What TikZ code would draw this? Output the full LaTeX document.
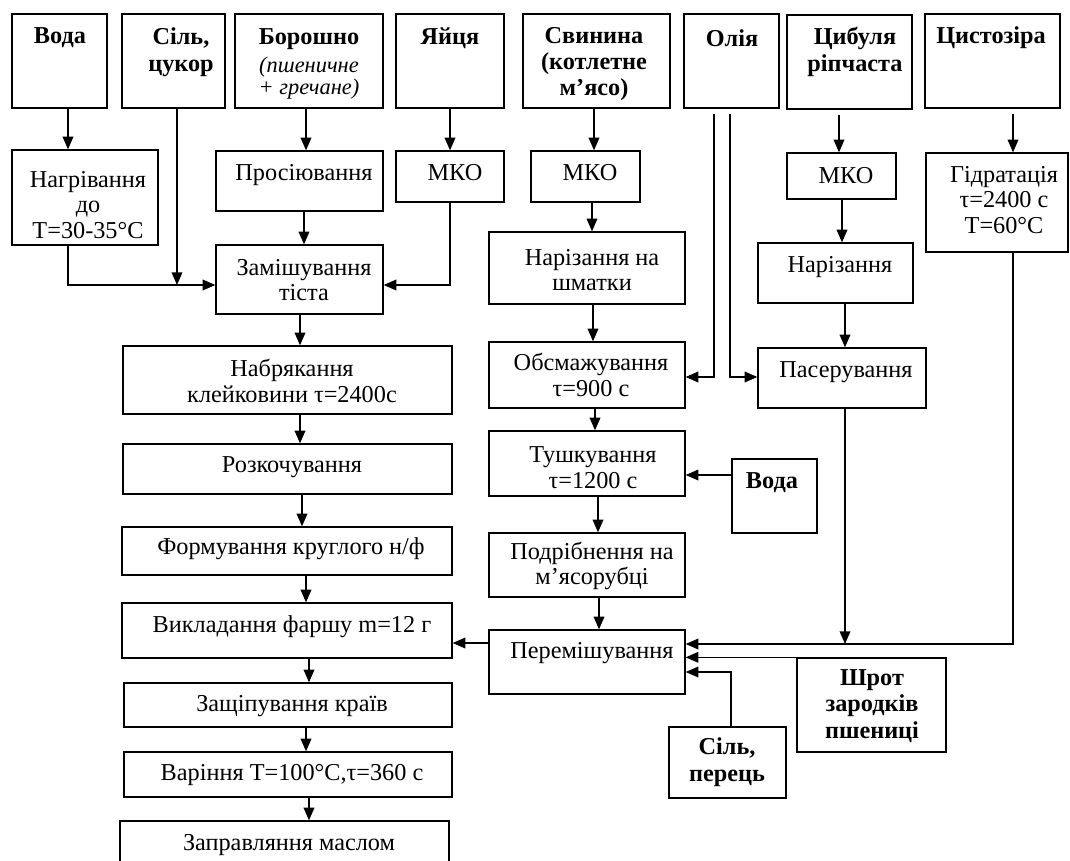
\documentclass[tikz,border=0pt]{standalone}
\usepackage{fontspec}
\setmainfont{Liberation Serif}
\usetikzlibrary{arrows.meta,fit}
\tikzset{
  box/.style={draw, line width=1pt, inner sep=0pt, fill=none},
  txt/.style={inner sep=0pt, align=center, font=\fontsize{18.2pt}{19.3pt}\selectfont},
  btxt/.style={inner sep=0pt, align=center, font=\fontsize{18.2pt}{19.8pt}\selectfont\bfseries},
  itxt/.style={inner sep=0pt, align=center, font=\fontsize{16.8pt}{14.5pt}\selectfont\itshape},
  arr/.style={line width=1pt, -{Triangle[length=9.5pt,width=8pt]}},
  gap/.style={shorten <=3.75pt}
}
\newcommand{\bx}[5]{\node[box, fit={(#2,#3)(#4,#5)}] (#1) {};}
\begin{document}
\begin{tikzpicture}[x=0.75pt,y=-0.75pt]
\useasboundingbox (0,0) rectangle (1070,860);
\clip (0,0) rectangle (1070,860);
\fill[white] (0,0) rectangle (1070,860);
% top row
\bx{voda}{12}{14}{107}{108}
\bx{sil}{122}{14}{225}{108}
\bx{borosh}{235}{14}{383}{108}
\bx{yaytsia}{396}{14}{504}{108}
\bx{svyn}{523}{14}{670}{108}
\bx{oliia}{684}{14}{779}{108}
\bx{tsyb}{787}{15}{912}{109}
\bx{tsyst}{925}{14}{1060}{108}
% second row
\bx{nagr}{12}{150}{158}{245}
\bx{prosi}{216}{151}{383}{211}
\bx{mkoa}{396}{151}{504}{202}
\bx{mkob}{531}{151}{640}{202}
\bx{mkoc}{787}{153}{896}{199}
\bx{hidr}{926}{153}{1068}{252}
\bx{zamish}{216}{245}{383}{314}
\bx{narizsh}{489}{232}{685}{304}
\bx{nariz}{758}{243}{913}{303}
% left column
\bx{nabr}{123}{346}{452}{414}
\bx{rozk}{123}{444}{452}{494}
\bx{form}{122}{527}{452}{575}
\bx{vykl}{122}{603}{452}{658}
\bx{zashch}{124}{683}{452}{727}
\bx{varin}{124}{752}{452}{797}
\bx{zapr}{120}{821}{449}{880}
% middle column
\bx{obsm}{489}{342}{685}{408}
\bx{tushk}{489}{431}{685}{496}
\bx{vodab}{732}{459}{817}{533}
\bx{podr}{489}{533}{685}{597}
\bx{paser}{758}{348}{926}{408}
\bx{peremish}{489}{630}{685}{694}
\bx{silper}{669}{727}{786}{798}
\bx{shrot}{797}{658}{946}{752}
% texts
\node[btxt] (t1) at (60,38) {Вода};
\node[btxt] (t2) at (181,52) {Сіль,\\цукор};
\node[btxt] (t3) at (309,39) {Борошно};
\node[itxt] (t3b) at (309,78) {(пшеничне\\+ гречане)};
\node[btxt] (t4) at (450,38) {Яйця};
\node[btxt] (t5) at (594,64) {Свинина\\(котлетне\\м’ясо)};
\node[btxt] (t6) at (732,38) {Олія};
\node[btxt] (t7) at (855,52) {Цибуля\\ріпчаста};
\node[btxt] (t8) at (991,38) {Цистозіра};
\node[txt] (tn) at (88,205) {Нагрівання\\до\\T=30-35°C};
\node[txt] (tp) at (304,175) {Просіювання};
\node[txt] (tma) at (455,173) {МКО};
\node[txt] (tmb) at (590,173) {МКО};
\node[txt] (tmc) at (846,176) {МКО};
\node[txt] (th) at (1004,200) {Гідратація\\τ=2400 с\\T=60°C};
\node[txt] (tz) at (304,280) {Замішування\\тіста};
\node[txt] (tns) at (592,270) {Нарізання на\\шматки};
\node[txt] (tnz) at (840,267) {Нарізання};
\node[txt] (tnb) at (292,381) {Набрякання\\клейковини τ=2400с};
\node[txt] (trz) at (292,467) {Розкочування};
\node[txt] (tf) at (291,549) {Формування круглого н/ф};
\node[txt] (tv) at (292,627) {Викладання фаршу m=12 г};
\node[txt] (tzs) at (292,706) {Защіпування країв};
\node[txt] (tvr) at (292,775) {Варіння T=100°C,τ=360 с};
\node[txt] (tzp) at (289,845) {Заправляння маслом};
\node[txt] (to) at (591,375) {Обсмажування\\τ=900 с};
\node[txt] (tt) at (593,468) {Тушкування\\τ=1200 с};
\node[txt] (tps) at (846,372) {Пасерування};
\node[btxt] (tvb) at (772,483) {Вода};
\node[txt] (tpd) at (592,566) {Подрібнення на\\м’ясорубці};
\node[txt] (tpr) at (592,653) {Перемішування};
\node[btxt] (tsp) at (727,762) {Сіль,\\перець};
\node[btxt] (tsh) at (872,706) {Шрот\\зародків\\пшениці};
% named junctions
\coordinate (j1) at (177,285);
\coordinate (j2) at (845,644);
% connectors top-left
\draw[arr] (voda.south -| 68,0) -- (nagr.north -| 68,0);
\draw[arr] (nagr.south -| 68,0) |- (zamish.west |- 0,285);
\draw[arr] (sil.south -| 177,0) -- (j1);
\draw[arr] (borosh.south -| 306,0) -- (prosi.north -| 306,0);
\draw[arr] (prosi.south -| 304,0) -- (zamish.north -| 304,0);
\draw[arr] (yaytsia.south -| 450,0) -- (mkoa.north -| 450,0);
\draw[arr] (mkoa.south -| 450,0) |- (zamish.east |- 0,285);
% left column
\draw[arr] (zamish.south -| 300,0) -- (nabr.north -| 300,0);
\draw[arr] (nabr.south -| 300,0) -- (rozk.north -| 300,0);
\draw[arr] (rozk.south -| 302,0) -- (form.north -| 302,0);
\draw[arr] (form.south -| 306,0) -- (vykl.north -| 306,0);
\draw[arr] (vykl.south -| 309,0) -- (zashch.north -| 309,0);
\draw[arr] (zashch.south -| 306,0) -- (varin.north -| 306,0);
\draw[arr] (varin.south -| 309,0) -- (zapr.north -| 309,0);
% middle column
\draw[arr] (svyn.south -| 594,0) -- (mkob.north -| 594,0);
\draw[arr] (mkob.south -| 592,0) -- (narizsh.north -| 592,0);
\draw[arr] (narizsh.south -| 593,0) -- (obsm.north -| 593,0);
\draw[arr] (obsm.south -| 595,0) -- (tushk.north -| 595,0);
\draw[arr] (tushk.south -| 598,0) -- (podr.north -| 598,0);
\draw[arr] (podr.south -| 599,0) -- (peremish.north -| 599,0);
\draw[arr] (vodab.west |- 0,475) -- (tushk.east |- 0,475);
\draw[arr, gap] (oliia.south -| 714,0) |- (obsm.east |- 0,377);
\draw[arr, gap] (oliia.south -| 730,0) |- (paser.west |- 0,377);
% right column
\draw[arr, gap] (tsyb.south -| 839,0) -- (mkoc.north -| 839,0);
\draw[arr] (mkoc.south -| 842,0) -- (nariz.north -| 842,0);
\draw[arr] (nariz.south -| 845,0) -- (paser.north -| 845,0);
\draw[arr, gap] (tsyst.south -| 1013,0) -- (hidr.north -| 1013,0);
\draw[arr] (paser.south -| 845,0) -- (j2);
\draw[arr] (hidr.south -| 1013,0) |- (peremish.east |- 0,644);
\draw[arr] (shrot.north west) -- (peremish.east |- shrot.north west);
\draw[arr] (silper.north -| 731,0) |- (peremish.east |- 0,672);
\draw[arr] (peremish.west |- 0,643) -- (vykl.east |- 0,643);
\end{tikzpicture}
\end{document}
